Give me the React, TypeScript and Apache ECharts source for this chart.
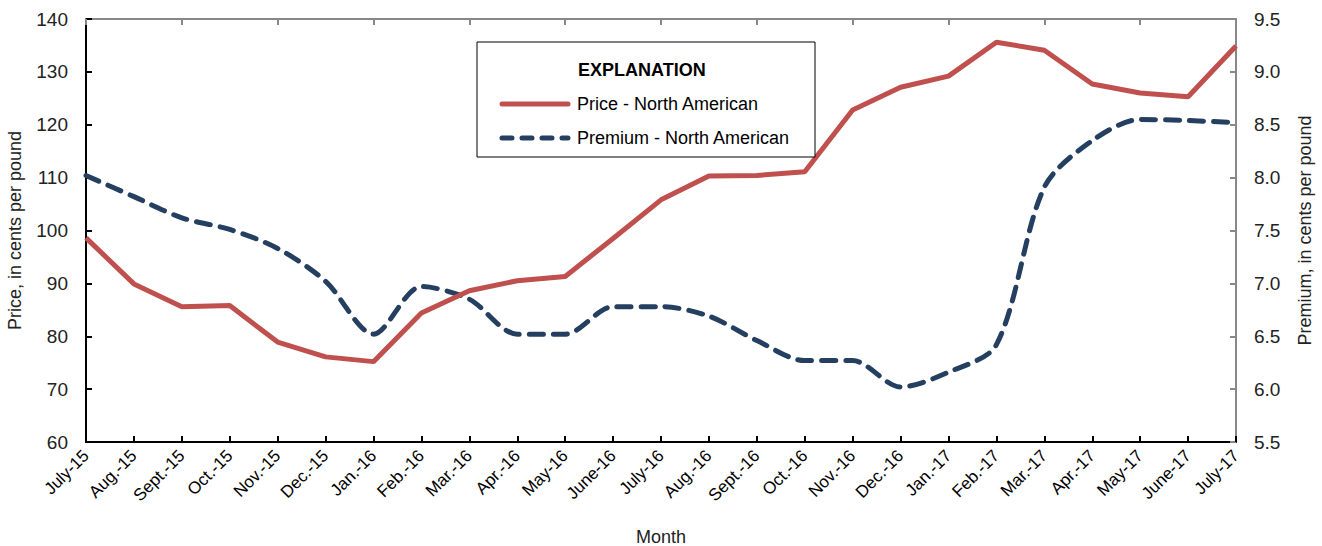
import React, { useEffect, useRef } from "react";
import * as echarts from "echarts";

const months = [
  "July-15", "Aug.-15", "Sept.-15", "Oct.-15", "Nov.-15", "Dec.-15", "Jan.-16", "Feb.-16",
  "Mar.-16", "Apr.-16", "May-16", "June-16", "July-16", "Aug.-16", "Sept.-16", "Oct.-16",
  "Nov.-16", "Dec.-16", "Jan.-17", "Feb.-17", "Mar.-17", "Apr.-17", "May-17", "June-17", "July-17",
];
const priceNA = [
  98.6, 89.9, 85.6, 85.8, 78.9, 76.1, 75.2, 84.4, 88.6, 90.5, 91.3, 98.5, 105.8,
  110.3, 110.4, 111.1, 122.8, 127.1, 129.2, 135.6, 134.1, 127.7, 126.0, 125.3, 134.9,
];
const premiumNA = [
  8.02, 7.82, 7.62, 7.51, 7.33, 7.02, 6.52, 6.97, 6.85, 6.52, 6.52, 6.78, 6.78,
  6.69, 6.46, 6.27, 6.27, 6.02, 6.16, 6.42, 7.91, 8.35, 8.55, 8.54, 8.52,
];
const seriesNames = ["Price - North American", "Premium - North American"];

const FONT = "'Liberation Sans Narrow', 'Arial Narrow', 'Liberation Sans', Arial, sans-serif";
const RED = "#C0504D";
const NAVY = "#243F60";

export default function App() {
  const ref = useRef<HTMLDivElement>(null);
  useEffect(() => {
    if (!ref.current) return;
    const chart = echarts.init(ref.current, undefined, { renderer: "svg" });
    chart.setOption({
      animation: false,
      backgroundColor: "#ffffff",
      grid: { left: 86, right: 86, top: 19, bottom: 104, containLabel: false, outerBoundsMode: "none" },
      xAxis: [
        {
          type: "category",
          data: months,
          boundaryGap: false,
          position: "bottom",
          name: "Month",
          nameLocation: "middle",
          nameGap: 86,
          nameTextStyle: { fontFamily: FONT, fontSize: 18, color: "#222" },
          axisLine: { lineStyle: { color: "#000", width: 2 } },
          axisTick: { inside: true, length: 6, lineStyle: { color: "#000", width: 2 } },
          axisLabel: { rotate: 45, fontFamily: FONT, fontSize: 17, color: "#000", margin: 11, interval: 0 },
          splitLine: { show: false },
        },
        {
          type: "category",
          data: months,
          boundaryGap: false,
          position: "top",
          axisLine: { lineStyle: { color: "#888", width: 2 } },
          axisTick: { inside: true, length: 6, lineStyle: { color: "#888", width: 2 } },
          axisLabel: { show: false },
          splitLine: { show: false },
        },
      ],
      yAxis: [
        {
          type: "value",
          min: 60,
          max: 140,
          interval: 10,
          position: "left",
          name: "Price, in cents per pound",
          nameLocation: "middle",
          nameGap: 62,
          nameTextStyle: { fontFamily: FONT, fontSize: 18, color: "#222" },
          axisLine: { show: true, lineStyle: { color: "#000", width: 2 } },
          axisTick: { show: true, inside: true, length: 6, lineStyle: { color: "#000", width: 2 } },
          axisLabel: { fontFamily: FONT, fontSize: 19, color: "#222", margin: 18 },
          splitLine: { show: false },
        },
        {
          type: "value",
          min: 5.5,
          max: 9.5,
          interval: 0.5,
          position: "right",
          name: "Premium, in cents per pound",
          nameLocation: "middle",
          nameGap: 60,
          nameRotate: 90,
          nameTextStyle: { fontFamily: FONT, fontSize: 18, color: "#222" },
          axisLine: { show: true, lineStyle: { color: "#888", width: 2 } },
          axisTick: { show: true, inside: true, length: 6, lineStyle: { color: "#888", width: 2 } },
          axisLabel: { fontFamily: FONT, fontSize: 19, color: "#222", margin: 18, formatter: (v: number) => v.toFixed(1) },
          splitLine: { show: false },
        },
      ],
      series: [
        {
          name: seriesNames[0],
          type: "line",
          data: priceNA,
          xAxisIndex: 0,
          yAxisIndex: 0,
          showSymbol: false,
          lineStyle: { color: RED, width: 5 },
          z: 3,
        },
        {
          name: seriesNames[1],
          type: "line",
          data: premiumNA,
          xAxisIndex: 0,
          yAxisIndex: 1,
          showSymbol: false,
          smooth: 0.3,
          lineStyle: { color: NAVY, width: 5, type: [14, 10], cap: "round" },
          z: 2,
        },
      ],
      graphic: [
        {
          type: "rect",
          shape: { x: 477, y: 42, width: 338, height: 115 },
          style: { fill: "#fff", stroke: "#000", lineWidth: 1 },
          z: 10,
        },
        {
          type: "text",
          x: 578,
          y: 70,
          style: { text: "EXPLANATION", font: `bold 18px ${FONT}`, fill: "#000", verticalAlign: "middle" },
          z: 11,
        },
        {
          type: "line",
          shape: { x1: 502, y1: 104, x2: 568, y2: 104 },
          style: { stroke: RED, lineWidth: 5, lineCap: "round" },
          z: 11,
        },
        {
          type: "text",
          x: 577,
          y: 104,
          style: { text: seriesNames[0], font: `18px ${FONT}`, fill: "#000", verticalAlign: "middle" },
          z: 11,
        },
        {
          type: "line",
          shape: { x1: 502, y1: 138, x2: 568, y2: 138 },
          style: { stroke: NAVY, lineWidth: 5, lineCap: "round", lineDash: [10, 10] },
          z: 11,
        },
        {
          type: "text",
          x: 577,
          y: 138,
          style: { text: seriesNames[1], font: `18px ${FONT}`, fill: "#000", verticalAlign: "middle" },
          z: 11,
        },
      ],
    });
    return () => chart.dispose();
  }, []);
  return (
    <div
      ref={ref}
      style={{ position: "fixed", left: 0, top: 0, width: 1322, height: 546 }}
    />
  );
}
